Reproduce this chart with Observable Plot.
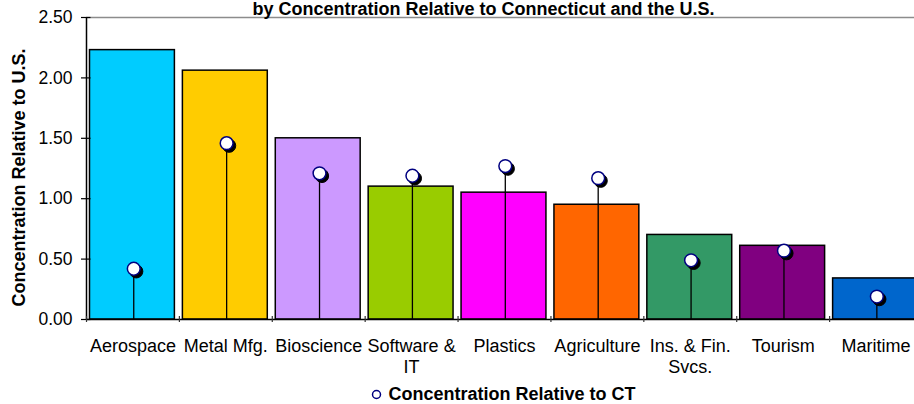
<!DOCTYPE html>
<html>
<head>
<meta charset="utf-8">
<script src="https://cdn.jsdelivr.net/npm/d3@7"></script>
<script src="https://cdn.jsdelivr.net/npm/@observablehq/plot@0.6"></script>
<style>
  html, body { margin: 0; padding: 0; background: #fff; overflow: hidden; }
  #chart svg { display: block; }
</style>
</head>
<body>
<div id="chart"></div>
<script>
const categories = ["Aerospace", "Metal Mfg.", "Bioscience", "Software & IT", "Plastics", "Agriculture", "Ins. & Fin. Svcs.", "Tourism", "Maritime"];
const tickLabels = ["Aerospace", "Metal Mfg.", "Bioscience", "Software &\nIT", "Plastics", "Agriculture", "Ins. & Fin.\nSvcs.", "Tourism", "Maritime"];
const usValues = [2.23, 2.06, 1.50, 1.10, 1.05, 0.95, 0.70, 0.61, 0.34];
const ctValues = [0.42, 1.46, 1.21, 1.19, 1.27, 1.17, 0.49, 0.57, 0.19];
const barColors = ["#00CCFF", "#FFCC00", "#CC99FF", "#99CC00", "#FF00FF", "#FF6600", "#339966", "#800080", "#0066CC"];
const yTicks = [0, 0.5, 1.0, 1.5, 2.0, 2.5];
const titleText = "by Concentration Relative to Connecticut and the U.S.";
const yLabel = "Concentration Relative to U.S.";
const legendLabel = "Concentration Relative to CT";

const data = categories.map((c, i) => ({cat: c, us: usValues[i], ct: ctValues[i]}));
const labelOf = new Map(categories.map((c, i) => [c, tickLabels[i]]));

const W = 914, H = 404;
const xRange = [86, 922];
const half = (xRange[1] - xRange[0]) / categories.length / 2;
const font = "'Liberation Sans', Arial, Helvetica, sans-serif";

const chart = Plot.plot({
  width: W,
  height: H,
  marginTop: 17,
  marginBottom: 85,
  marginLeft: 86,
  marginRight: 0,
  style: {fontFamily: font, background: "white", overflow: "visible"},
  x: {type: "band", domain: categories, range: xRange, padding: 0, round: false, axis: null},
  y: {domain: [0, 2.5], axis: null},
  color: {domain: categories, range: barColors},
  marks: [
    Plot.barY(data, {x: "cat", y: "us", fill: "cat", stroke: "black", strokeWidth: 1.5, insetLeft: 3.5, insetRight: 4.5}),
    Plot.ruleX(data, {x: "cat", y1: 0, y2: "ct", stroke: "black", strokeWidth: 1.3, dx: 0.8}),
    Plot.dot(data, {x: "cat", y: "ct", r: 6.6, fill: "black", stroke: "black", strokeWidth: 1, dx: 3.3, dy: 2.6}),
    Plot.dot(data, {x: "cat", y: "ct", r: 6.4, fill: "white", stroke: "#000080", strokeWidth: 1.5, dx: 0.8}),
    Plot.ruleY([2.5], {stroke: "#8c8c8c", strokeWidth: 1.5}),
    Plot.ruleY([0], {stroke: "black", strokeWidth: 1.5}),
    Plot.ruleX([categories[0]], {x: d => d, dx: -half, stroke: "black", strokeWidth: 1.5}),
    Plot.axisY({ticks: yTicks, tickFormat: d3.format(".2f"), tickSize: 9.5, dx: 4.5, tickPadding: 9, fontSize: 17.5, label: null, stroke: "black", strokeWidth: 1.2, fill: "black"}),
    Plot.axisX({tickSize: 6, dy: -3, dx: -half, fill: "none", label: null, stroke: "#333", strokeWidth: 1.2}),
    Plot.axisX({tickSize: 0, tickPadding: 18, fontSize: 18, lineHeight: 1.15, tickFormat: d => labelOf.get(d), label: null, fill: "black"}),
    Plot.text([titleText], {frameAnchor: "top", text: d => d, textAnchor: "middle", dx: -17, dy: -8.5, fontSize: 18, fontWeight: "bold", lineAnchor: "middle", fill: "black"}),
    Plot.text([yLabel], {frameAnchor: "left", text: d => d, textAnchor: "middle", rotate: -90, dx: -67, dy: 9, fontSize: 18, fontWeight: "bold", lineAnchor: "middle", fill: "black"}),
    Plot.dot([legendLabel], {frameAnchor: "bottom", dx: -124, dy: 75, r: 4, fill: "white", stroke: "#000080", strokeWidth: 1.5}),
    Plot.text([legendLabel], {frameAnchor: "bottom", text: d => d, textAnchor: "start", dx: -112, dy: 75, fontSize: 18, fontWeight: "bold", lineAnchor: "middle", fill: "black"})
  ]
});
document.getElementById("chart").appendChild(chart);
</script>
</body>
</html>
